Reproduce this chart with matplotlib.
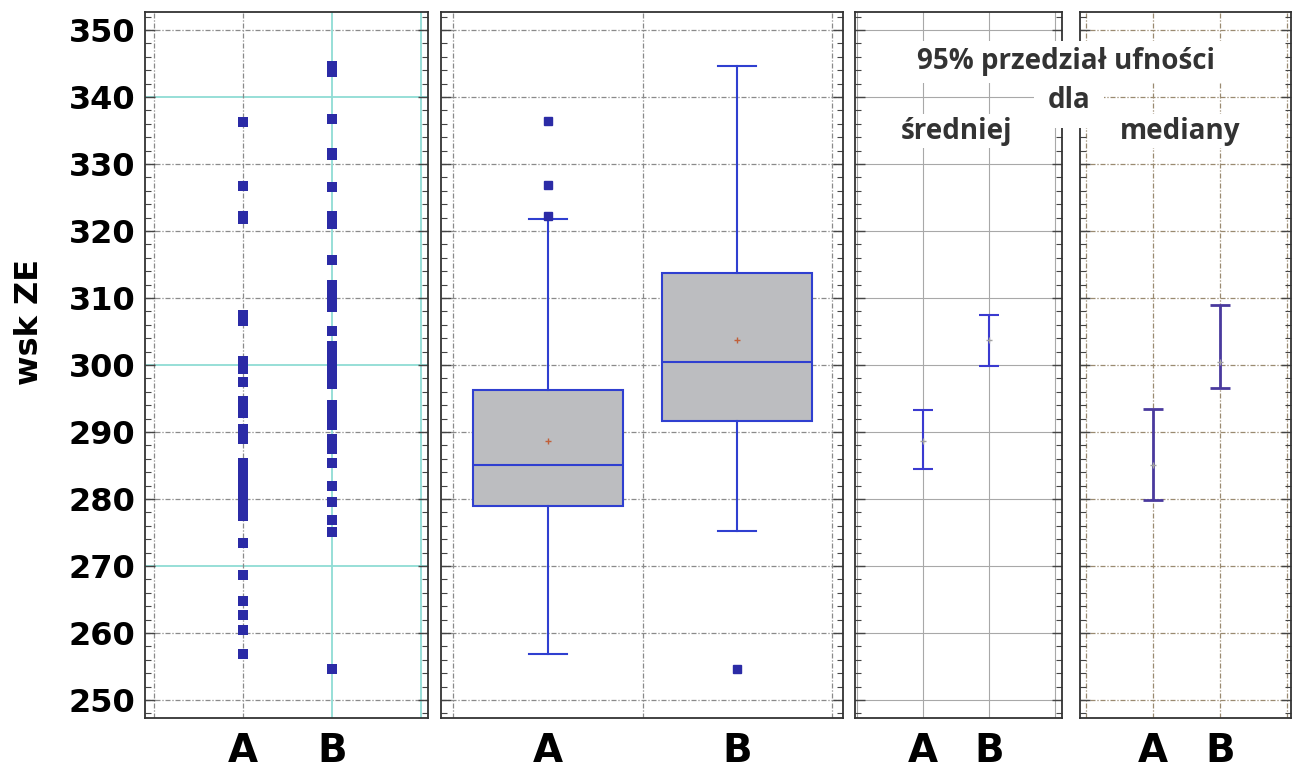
import numpy as np
import matplotlib
matplotlib.use('Agg')
import matplotlib.pyplot as plt
from matplotlib.ticker import MultipleLocator

grupy = ['A', 'B']

# panel 1 - pojedyncze pomiary
wsk_A = [336.3, 326.7, 322.3, 321.8, 307.4, 307.0, 306.6, 300.6, 300.0, 299.4,
         297.5, 294.7, 293.8, 292.8, 290.5, 289.7, 289.0, 285.3, 284.6, 283.9,
         283.2, 282.5, 281.8, 281.1, 280.4, 279.7, 279.0, 278.3, 277.5, 273.4,
         268.7, 264.8, 262.7, 260.5, 256.9]
wsk_B = [344.6, 343.8, 336.8, 331.7, 331.3, 326.5, 322.3, 321.7, 321.0, 315.7,
         311.9, 311.1, 310.3, 309.4, 308.6, 305.1, 302.9, 302.1, 301.3, 300.5,
         299.7, 298.9, 298.0, 297.2, 294.1, 292.6, 291.8, 291.0, 289.0, 287.4,
         285.3, 281.9, 279.6, 276.9, 275.1, 254.6]

# panel 2 - wykres ramka-wasy
q1 = [278.9, 291.6]
q3 = [296.2, 313.8]
wasy_dol = [256.9, 275.2]
wasy_gora = [321.8, 344.6]
odstajace = [[336.4, 326.8, 322.3], [254.6]]

# srednie i mediany z przedzialami ufnosci 95%
srednia = [288.7, 303.8]
srednia_lo = [284.4, 299.9]
srednia_hi = [293.3, 307.5]
mediana = [285.0, 300.5]
mediana_lo = [279.9, 296.6]
mediana_hi = [293.5, 309.0]

yticks = np.arange(250, 351, 10)

W, H = 1298, 769
fig = plt.figure(figsize=(W / 100, H / 100), dpi=100)
CYJAN = '#8fdcd4'


def panel(x0, x1):
    return fig.add_axes([x0 / W, 1 - 718 / H, (x1 - x0) / W, 706 / H])


def styl(ax, xlim, xgrid, xlab, kol_h, kol_v, ls, lw):
    ax.set_ylim(247.3, 352.7)
    ax.set_xlim(*xlim)
    for y, c in zip(yticks, kol_h):
        ax.axhline(y, color=c, ls='-' if c == CYJAN else ls, lw=1.3 if c == CYJAN else lw, zorder=0)
    for x, c in zip(xgrid, kol_v):
        ax.axvline(x, color=c, ls='-' if c == CYJAN else ls, lw=1.3 if c == CYJAN else lw, zorder=0)
    ax.yaxis.set_major_locator(MultipleLocator(10))
    ax.yaxis.set_minor_locator(MultipleLocator(2))
    ax.tick_params(axis='y', which='both', direction='in', left=True, right=True,
                   labelleft=False, color='#444')
    ax.tick_params(axis='y', which='major', length=7, width=1)
    ax.tick_params(axis='y', which='minor', length=4, width=0.8)
    ax.set_xticks(xlab)
    ax.set_xticklabels(grupy, fontsize=28, fontweight='bold', family='DejaVu Sans')
    ax.tick_params(axis='x', length=0, pad=10)
    for s in ax.spines.values():
        s.set_color('#333333')
        s.set_linewidth(1.3)


niebieski = '#2f3fd0'
granat = '#2b2ba6'

# panel 1
ax1 = panel(145, 428)
styl(ax1, (-0.10, 3.08), [0, 1, 2, 3], [1, 2],
     ['#8a8a8a', '#8a8a8a', CYJAN, '#8a8a8a', '#8a8a8a', CYJAN,
      '#8a8a8a', '#8a8a8a', '#8a8a8a', CYJAN, '#8a8a8a'],
     ['#8a8a8a', '#8a8a8a', CYJAN, CYJAN], (0, (4, 1.5, 1, 1.5)), 0.9)
ax1.plot([1] * len(wsk_A), wsk_A, 's', color=granat, ms=6.5, mew=0, zorder=3)
ax1.plot([2] * len(wsk_B), wsk_B, 's', color=granat, ms=6.5, mew=0, zorder=3)
ax1.tick_params(axis='y', which='major', labelleft=True, labelsize=23, pad=7)
for t in ax1.get_yticklabels():
    t.set_fontweight('bold')

# panel 2
ax2 = panel(441, 843)
staty = []
for i in range(2):
    staty.append(dict(med=mediana[i], q1=q1[i], q3=q3[i], whislo=wasy_dol[i],
                      whishi=wasy_gora[i], mean=srednia[i], fliers=odstajace[i]))
ax2.bxp(staty, positions=[0.5, 1.5], widths=0.79, capwidths=0.2, showmeans=True,
        patch_artist=True,
        boxprops=dict(facecolor='#bcbdc0', edgecolor=niebieski, linewidth=1.5),
        medianprops=dict(color=niebieski, linewidth=1.5),
        whiskerprops=dict(color=niebieski, linewidth=1.5),
        capprops=dict(color=niebieski, linewidth=1.5),
        flierprops=dict(marker='s', markerfacecolor=granat, markeredgecolor=granat, markersize=6),
        meanprops=dict(marker='+', markeredgecolor='#c0603a', markersize=4, markeredgewidth=1))
styl(ax2, (-0.066, 2.06), [0, 1, 2], [0.5, 1.5], ['#8a8a8a'] * 11, ['#8a8a8a'] * 3,
     (0, (4, 1.5, 1, 1.5)), 0.9)

# panel 3 - przedzial dla sredniej
ax3 = panel(855, 1062)
styl(ax3, (-0.03, 3.11), [0, 1, 2, 3], [1, 2], ['#a8a8a8'] * 11, ['#a8a8a8'] * 4, '-', 0.8)
err = [np.array(srednia) - np.array(srednia_lo), np.array(srednia_hi) - np.array(srednia)]
ax3.errorbar([1, 2], srednia, yerr=err, fmt='none', ecolor='#3a3ad0', elinewidth=1.5,
             capsize=7, capthick=1.5, zorder=3)
ax3.plot([1, 2], srednia, '+', color='#a0a0a0', ms=4, zorder=4)

# panel 4 - przedzial dla mediany
ax4 = panel(1080, 1291)
styl(ax4, (-0.09, 3.06), [0, 1, 2, 3], [1, 2], ['#9a8a70'] * 11, ['#9a8a70'] * 4,
     (0, (4, 1.5, 1, 1.5)), 0.9)
err = [np.array(mediana) - np.array(mediana_lo), np.array(mediana_hi) - np.array(mediana)]
ax4.errorbar([1, 2], mediana, yerr=err, fmt='none', ecolor='#4a3a9e', elinewidth=2,
             capsize=7, capthick=2, zorder=3)
ax4.plot([1, 2], mediana, '+', color='#a0a0a0', ms=4, zorder=4)

fig.text(30 / W, 1 - 322 / H, 'wsk ZE', rotation=90, ha='center', va='center',
         fontsize=23, fontweight='bold')

opis = dict(ha='center', va='center', fontsize=20, fontweight='bold', color='#333333',
            family=['Open Sans', 'DejaVu Sans'])
tlo = dict(facecolor='white', edgecolor='none', pad=2)
fig.text(1066 / W, 1 - 62 / H, '95% przedział ufności',
         bbox=dict(facecolor='white', edgecolor='none', pad=5), **opis)
fig.text(1069 / W, 1 - 100 / H, 'dla', bbox=dict(facecolor='white', edgecolor='none', pad=10), **opis)
fig.text(957 / W, 1 - 131 / H, 'średniej', bbox=tlo, **opis)
fig.text(1180 / W, 1 - 131 / H, 'mediany', bbox=tlo, **opis)

fig.savefig('out.png', dpi=100)
